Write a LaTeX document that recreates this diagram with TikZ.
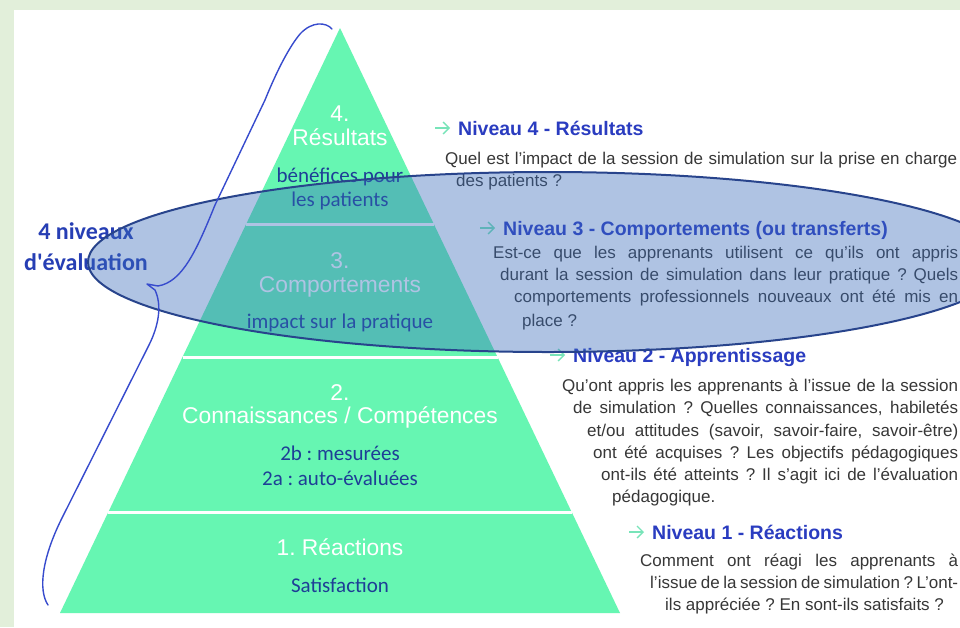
\documentclass[tikz,border=0pt]{standalone}
\usepackage{fontspec}
\usetikzlibrary{arrows.meta}
\setmainfont{Liberation Sans}
\newfontfamily\calfont{Carlito}
\definecolor{bggreen}{RGB}{226,239,218}
\definecolor{pyrgreen}{RGB}{102,246,178}
\definecolor{ellfill}{RGB}{57,107,187}
\definecolor{ellborder}{RGB}{40,68,140}
\definecolor{bracecol}{RGB}{55,75,205}
\definecolor{labblue}{RGB}{30,62,150}
\definecolor{sideblue}{RGB}{38,62,180}
\definecolor{headblue}{RGB}{42,60,192}
\definecolor{bodygray}{RGB}{55,55,55}
\definecolor{arrowgreen}{RGB}{120,228,185}
\newcommand{\jl}[2]{\makebox[#1pt][s]{#2}}
\frenchspacing
\begin{document}
\begin{tikzpicture}[x=1pt,y=-1pt,
  body/.style={anchor=base west, inner sep=0pt, font=\frenchspacing\fontsize{17}{20}\selectfont, text=bodygray},
  head/.style={anchor=base west, inner sep=0pt, font=\fontsize{19.5}{22}\selectfont\bfseries, text=headblue},
  garrow/.style={arrowgreen, line width=1.3pt, -{Straight Barb[length=6pt,width=12pt]}},
  wlab/.style={anchor=base, inner sep=0pt, font=\fontsize{22.8}{26}\selectfont, text=white},
  blab/.style={anchor=base, inner sep=0pt, font=\calfont\fontsize{21}{25}\selectfont, text=labblue},
  tierline/.style={white, line width=3pt},
]
\useasboundingbox (0,0) rectangle (960,627);
\fill[bggreen] (0,0) rectangle (960,627);
\fill[white] (14,10) rectangle (960,627);

% pyramid
\fill[pyrgreen] (340,28) -- (620,613) -- (60,613) -- cycle;
\coordinate (l3a) at (246.3,224); \coordinate (l3b) at (433.7,224);
\coordinate (l2a) at (182.5,357); \coordinate (l2b) at (497.5,357);
\coordinate (l1a) at (108.3,512); \coordinate (l1b) at (571.7,512);
\draw[tierline] (l3a) -- (l3b);
\draw[tierline] (l2a) -- (l2b);
\draw[tierline] (l1a) -- (l1b);

% pyramid labels
\node[wlab] (p4n) at (340,121) {4.};
\node[wlab] (p4t) at (340,145) {Résultats};
\node[blab] (p4a) at (340,182) {bénéfices pour};
\node[blab] (p4b) at (340,206) {les patients};
\node[wlab] (p3n) at (340,268) {3.};
\node[wlab] (p3t) at (340,292) {Comportements};
\node[blab] (p3a) at (340,328) {impact sur la pratique};
\node[wlab] (p2n) at (340,400) {2.};
\node[wlab] (p2t) at (340,423) {Connaissances / Compétences};
\node[blab] (p2a) at (340,460) {2b : mesurées};
\node[blab] (p2b) at (340,485) {2a : auto-évaluées};
\node[wlab] (p1t) at (340,555) {1. Réactions};
\node[blab] (p1a) at (340,592) {Satisfaction};

% side label
\node[anchor=base, inner sep=0pt, font=\calfont\bfseries\fontsize{24}{31}\selectfont, text=sideblue] (s1) at (86,239) {4 niveaux};
\node[anchor=base, inner sep=0pt, font=\calfont\bfseries\fontsize{24}{31}\selectfont, text=sideblue] (s2) at (86,270) {d'évaluation};

% Niveau 4
\coordinate (a4) at (435,128);
\node[head] (h4) at (458,135) {Niveau 4 - Résultats};
\draw[garrow] (a4) -- ++(15,0);
\node[body] (b4a) at (445,164) {\jl{512}{Quel est l’impact de la session de simulation sur la prise en charge}};
\node[body] (b4b) at (456,186) {des patients ?};

% Niveau 3
\coordinate (a3) at (480,228);
\node[head] (h3) at (503,235) {Niveau 3 - Comportements (ou transferts)};
\draw[garrow] (a3) -- ++(15,0);
\node[body] (b3a) at (493,258) {\jl{465}{Est-ce que les apprenants utilisent ce qu’ils ont appris}};
\node[body] (b3b) at (500,280) {\jl{458}{durant la session de simulation dans leur pratique ? Quels}};
\node[body] (b3c) at (514,302) {\jl{444}{comportements professionnels nouveaux ont été mis en}};
\node[body] (b3d) at (522,326) {place ?};

% Niveau 2
\coordinate (a2) at (550,355);
\node[head] (h2) at (573,362) {Niveau 2 - Apprentissage};
\draw[garrow] (a2) -- ++(15,0);
\node[body] (b2a) at (562,391) {\jl{396}{Qu’ont appris les apprenants à l’issue de la session}};
\node[body] (b2b) at (573,413) {\jl{385}{de simulation ? Quelles connaissances, habiletés}};
\node[body] (b2c) at (587,436) {\jl{371}{et/ou attitudes (savoir, savoir-faire, savoir-être)}};
\node[body] (b2d) at (593,458) {\jl{365}{ont été acquises ? Les objectifs pédagogiques}};
\node[body] (b2e) at (601,480) {\jl{357}{ont-ils été atteints ? Il s’agit ici de l’évaluation}};
\node[body] (b2f) at (612,502) {pédagogique.};

% Niveau 1
\coordinate (a1) at (629,532);
\node[head] (h1) at (652,539) {Niveau 1 - Réactions};
\draw[garrow] (a1) -- ++(15,0);
\node[body] (b1a) at (640,566) {\jl{318}{Comment ont réagi les apprenants à}};
\node[body] (b1b) at (650,588) {\jl{308}{l’issue de la session de simulation ? L’ont-}};
\node[body] (b1c) at (665,610) {ils appréciée ? En sont-ils satisfaits ?};

% ellipse
\draw[ellborder, line width=2pt, fill=ellfill, fill opacity=0.4] (548,262) ellipse [x radius=460pt, y radius=90pt];

% brace
\draw[bracecol, line width=1.4pt, line cap=round, line join=round]
  (332,29) .. controls (326,22) and (312,21) .. (300,34)
  .. controls (290,46) and (278,68) .. (265,100)
  -- (215,205) .. controls (196,252) and (182,282) .. (158,286) -- (147,284)
  -- (155,290) .. controls (162,305) and (159,325) .. (149,345)
  -- (62,518) .. controls (42,558) and (38,590) .. (48,605);
\end{tikzpicture}
\end{document}
